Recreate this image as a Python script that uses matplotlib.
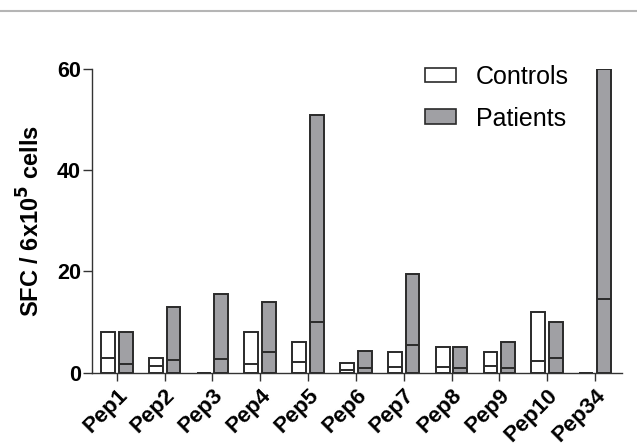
import numpy as np
import matplotlib
matplotlib.use('Agg')
import matplotlib.pyplot as plt
from matplotlib.patches import Patch
from matplotlib.lines import Line2D

plt.rcParams['font.family'] = ['Liberation Sans', 'DejaVu Sans']

peptides = ['Pep1', 'Pep2', 'Pep3', 'Pep4', 'Pep5', 'Pep6', 'Pep7',
            'Pep8', 'Pep9', 'Pep10', 'Pep34']

# floating bars: min to max, line at median
ctrl_min = [0, 0, 0, 0, 0, 0, 0, 0, 0, 0, 0]
ctrl_max = [8, 3, 0, 8, 6, 2, 4, 5, 4, 12, 0]
ctrl_med = [2.9, 1.3, 0, 1.7, 2.2, 0.6, 1.1, 1.1, 1.3, 2.4, 0]

pat_min = [0, 0, 0, 0, 0, 0, 0, 0, 0, 0, 0]
pat_max = [8, 13, 15.5, 14, 51, 4.3, 19.5, 5, 6, 10, 60]
pat_med = [1.7, 2.5, 2.7, 4.1, 10, 0.9, 5.5, 0.9, 0.9, 3.0, 14.5]

edge = '#2a2a2a'
gray = '#a0a0a4'

fig = plt.figure(figsize=(6.37, 4.45), dpi=100)
ax = fig.add_axes([0.1444, 0.1625, 0.8316, 0.6825])

x = np.arange(len(peptides))
off, w = 0.185, 0.29

groups = [(x - off, ctrl_min, ctrl_max, ctrl_med, 'white'),
          (x + off, pat_min, pat_max, pat_med, gray)]
for xs, lo, hi, med, fc in groups:
    lo, hi, med = np.array(lo), np.array(hi), np.array(med)
    ax.bar(xs, hi - lo, bottom=lo, width=w, facecolor=fc, edgecolor=edge,
           linewidth=1.4, zorder=2)
    ax.hlines(med, xs - w / 2, xs + w / 2, color=edge, linewidth=1.4, zorder=3)

ax.set_xlim(-0.52, 10.56)
ax.set_ylim(0, 60)
ax.set_yticks([0, 20, 40, 60])
ax.set_xticks(x)
ax.set_xticklabels(peptides, rotation=45, ha='right', rotation_mode='anchor',
                   fontsize=16, fontweight='bold')
for lab in ax.get_yticklabels():
    lab.set_fontsize(15.5)
    lab.set_fontweight('bold')
ax.tick_params(axis='x', length=5.5, width=1, color='#333333', pad=3)
ax.tick_params(axis='y', length=6.5, width=1, color='#333333', pad=1.5)

for s in ['top', 'right']:
    ax.spines[s].set_visible(False)
for s in ['left', 'bottom']:
    ax.spines[s].set_color('#333333')
    ax.spines[s].set_linewidth(1)

ax.set_ylabel('SFC / 6x10$^\\mathbf{5}$ cells', fontsize=17, fontweight='bold',
              labelpad=9)

handles = [Patch(facecolor='white', edgecolor=edge, linewidth=1.2),
           Patch(facecolor=gray, edgecolor=edge, linewidth=1.2)]
ax.legend(handles, ['Controls', 'Patients'], loc='upper left',
          bbox_to_anchor=(0.586, 1.087), frameon=False, fontsize=18,
          handlelength=1.25, handleheight=0.52, labelspacing=0.7,
          handletextpad=0.8, borderpad=0.4)

# thin gray rule at the top of the image
fig.add_artist(Line2D([0, 1], [1 - 11 / 445, 1 - 11 / 445], color='#b5b5b5',
                      linewidth=1.5, transform=fig.transFigure))

fig.savefig('out.png', dpi=100)
